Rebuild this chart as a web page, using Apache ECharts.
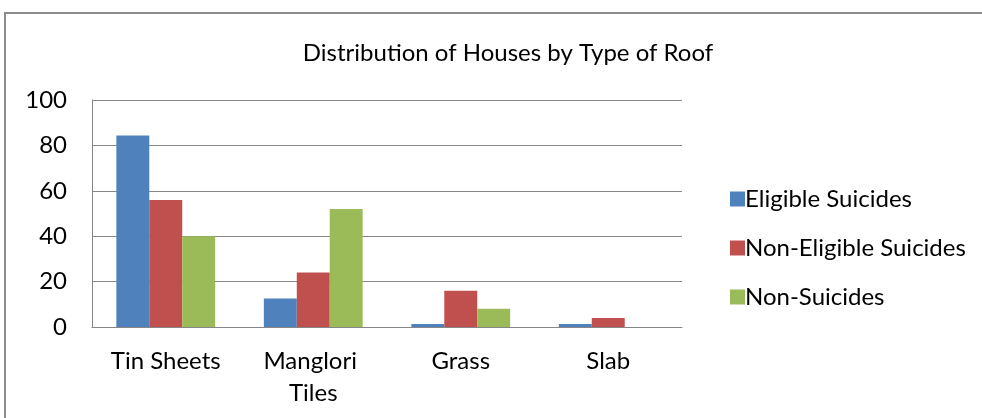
<!DOCTYPE html>
<html>
<head>
<meta charset="utf-8">
<script src="https://cdn.jsdelivr.net/npm/echarts@6/dist/echarts.min.js"></script>
<style>
  html, body { margin: 0; padding: 0; background: #fff; }
  #chart { width: 982px; height: 418px; }
</style>
</head>
<body>
<div id="chart"></div>
<script>
const roofTypes = ['Tin Sheets', 'Manglori Tiles', 'Grass', 'Slab'];
const eligible = [84.4, 12.6, 1.3, 1.3];
const nonEligible = [56, 24, 16, 4];
const nonSuicides = [40, 52, 8, 0];
const yTicks = [0, 20, 40, 60, 80, 100];

const font = 'Lato';
const chart = echarts.init(document.getElementById('chart'));

const option = {
  backgroundColor: '#fff',
  animation: false,
  textStyle: { fontFamily: font, color: '#000' },
  title: {
    text: 'Distribution of Houses by Type of Roof',
    left: 503,
    top: 36,
    textAlign: 'center',
    textStyle: { fontFamily: font, fontSize: 24, fontWeight: 'normal', color: '#000' }
  },
  graphic: [{
    type: 'rect',
    shape: { x: 5, y: 13, width: 1000, height: 500 },
    style: { fill: 'none', stroke: '#8c8c8c', lineWidth: 2 },
    silent: true
  }],
  legend: {
    orient: 'vertical',
    left: 725,
    top: 182,
    itemWidth: 15,
    itemHeight: 15,
    itemGap: 25,
    icon: 'rect',
    textStyle: { fontFamily: font, fontSize: 24, lineHeight: 24, color: '#000', padding: [0, 0, 0, -5] },
    data: ['Eligible Suicides', 'Non-Eligible Suicides', 'Non-Suicides']
  },
  grid: { left: 92, right: 300, top: 100, bottom: 91 },
  xAxis: {
    type: 'category',
    data: roofTypes,
    axisTick: { show: false },
    axisLine: { lineStyle: { color: '#868686', width: 1 } },
    axisLabel: {
      fontFamily: font, fontSize: 24, color: '#000', margin: 18,
      lineHeight: 32, width: 125, overflow: 'break', interval: 0
    }
  },
  yAxis: {
    type: 'value',
    min: 0, max: 100, interval: 20,
    axisLine: { show: true, lineStyle: { color: '#868686', width: 1 } },
    axisTick: { show: false },
    splitLine: { lineStyle: { color: '#868686', width: 1 } },
    axisLabel: {
      fontFamily: font, fontSize: 24, color: '#000', margin: 25,
      formatter: v => yTicks.includes(v) ? String(v) : ''
    }
  },
  series: [
    { name: 'Eligible Suicides', type: 'bar', data: eligible, barGap: '0%', barCategoryGap: '33%',
      itemStyle: { color: '#4F81BD' } },
    { name: 'Non-Eligible Suicides', type: 'bar', data: nonEligible, barGap: '0%', barCategoryGap: '33%',
      itemStyle: { color: '#C0504D' } },
    { name: 'Non-Suicides', type: 'bar', data: nonSuicides, barGap: '0%', barCategoryGap: '33%',
      itemStyle: { color: '#9BBB59' } }
  ]
};

chart.setOption(option);
</script>
</body>
</html>
